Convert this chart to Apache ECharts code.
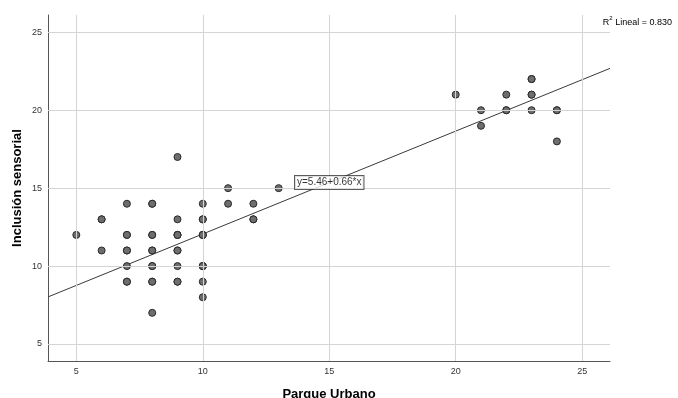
<!DOCTYPE html>
<html>
<head>
<meta charset="utf-8">
<script src="https://cdn.jsdelivr.net/npm/echarts@6/dist/echarts.min.js"></script>
<style>
  html, body { margin: 0; padding: 0; background: #ffffff; overflow: hidden; }
  #chart { width: 678px; height: 398px; }
</style>
</head>
<body>
<div id="chart"></div>
<script>
// Parque Urbano (x) vs Inclusión sensorial (y), one entry per case
const parqueUrbano = [
  5, 6, 6, 6, 7, 7, 7, 7, 7, 7, 7, 7,
  8, 8, 8, 8, 8, 8, 8, 8, 8, 8, 8,
  9, 9, 9, 9, 9, 9, 9, 9, 9, 9,
  10, 10, 10, 10, 10, 10, 10, 10, 10, 10, 10,
  11, 11, 12, 12, 12, 13,
  20, 21, 21, 22, 22, 22, 23, 23, 23, 23, 23, 24, 24, 24
];
const inclusionSensorial = [
  12, 13, 13, 11, 14, 12, 12, 11, 11, 10, 9, 9,
  14, 12, 12, 11, 10, 10, 9, 9, 7, 11, 14,
  17, 13, 12, 12, 11, 11, 10, 9, 9, 12,
  14, 13, 13, 12, 12, 10, 10, 9, 8, 12, 10,
  15, 14, 14, 13, 13, 15,
  21, 20, 19, 21, 20, 20, 22, 22, 21, 21, 20, 20, 20, 18
];

// Linear fit reported for the data
const fitIntercept = 5.46;
const fitSlope = 0.66;
const fitLabel = 'y=5.46+0.66*x';
const r2Label = '0.830';

const xTicks = [5, 10, 15, 20, 25];
const yTicks = [5, 10, 15, 20, 25];
const xRange = [3.88, 26.10];
const yRange = [3.91, 26.11];

const points = parqueUrbano.map((x, i) => [x, inclusionSensorial[i]]);
const fitLine = xRange.map(x => [x, fitIntercept + fitSlope * x]);
const labelX = 15;
const labelPoint = [[labelX, fitIntercept + fitSlope * labelX]];

const chart = echarts.init(document.getElementById('chart'), null, { renderer: 'canvas', width: 678, height: 398 });

const fontFamily = 'Liberation Sans, Arial, sans-serif';
const tickLabelStyle = { color: '#333333', fontSize: 9, fontFamily };

chart.setOption({
  animation: false,
  backgroundColor: '#ffffff',
  grid: { left: 48, top: 15, width: 562, height: 346, containLabel: false, outerBoundsMode: 'none' },
  xAxis: {
    type: 'value',
    min: xRange[0],
    max: xRange[1],
    name: 'Parque Urbano',
    nameLocation: 'middle',
    nameGap: 27,
    nameTextStyle: { color: '#000000', fontSize: 13, fontWeight: 'bold', fontFamily },
    axisLine: { show: true, lineStyle: { color: '#555555', width: 1 } },
    axisTick: { show: false },
    splitLine: { show: false },
    axisLabel: { show: false }
  },
  yAxis: {
    type: 'value',
    min: yRange[0],
    max: yRange[1],
    name: 'Inclusión sensorial',
    nameLocation: 'middle',
    nameGap: 24,
    nameTextStyle: { color: '#000000', fontSize: 13, fontWeight: 'bold', fontFamily },
    axisLine: { show: true, lineStyle: { color: '#555555', width: 1 } },
    axisTick: { show: false },
    splitLine: { show: false },
    axisLabel: { show: false }
  },
  series: [
    {
      // reference grid lines and tick labels at the round values
      type: 'line',
      silent: true,
      data: [],
      markLine: {
        silent: true,
        symbol: 'none',
        animation: false,
        lineStyle: { color: '#d4d4d4', type: 'solid', width: 1 },
        data: [
          ...xTicks.map(v => ({
            xAxis: v,
            label: {
              show: true, position: 'start', formatter: String(v),
              distance: 6, ...tickLabelStyle
            }
          })),
          ...yTicks.map(v => ({
            yAxis: v,
            label: {
              show: true, position: 'start', formatter: String(v),
              distance: 6, ...tickLabelStyle
            }
          }))
        ]
      }
    },
    {
      type: 'line',
      data: fitLine,
      showSymbol: false,
      symbol: 'none',
      silent: true,
      lineStyle: { color: '#3a3a3a', width: 1 },
      z: 3
    },
    {
      type: 'scatter',
      data: points,
      symbol: 'circle',
      symbolSize: 7,
      itemStyle: { color: '#6e6e6e', borderColor: '#2a2a2a', borderWidth: 1, opacity: 1 },
      z: 4
    },
    {
      type: 'scatter',
      data: labelPoint,
      symbolSize: 0,
      silent: true,
      z: 5,
      label: {
        show: true,
        position: 'inside',
        formatter: fitLabel,
        color: '#000000',
        fontSize: 10,
        fontFamily,
        backgroundColor: '#ffffff',
        borderColor: '#333333',
        borderWidth: 1,
        padding: [2, 2, 1, 2]
      }
    }
  ],
  graphic: [
    {
      type: 'text',
      right: 6,
      top: 15,
      style: {
        text: '{n|R}{s|2}{n| Lineal = ' + r2Label + '}',
        rich: {
          n: { fontSize: 9, fontFamily, fill: '#000000', verticalAlign: 'bottom', lineHeight: 12 },
          s: { fontSize: 6, fontFamily, fill: '#000000', verticalAlign: 'top', lineHeight: 8 }
        }
      }
    }
  ]
});
</script>
</body>
</html>
